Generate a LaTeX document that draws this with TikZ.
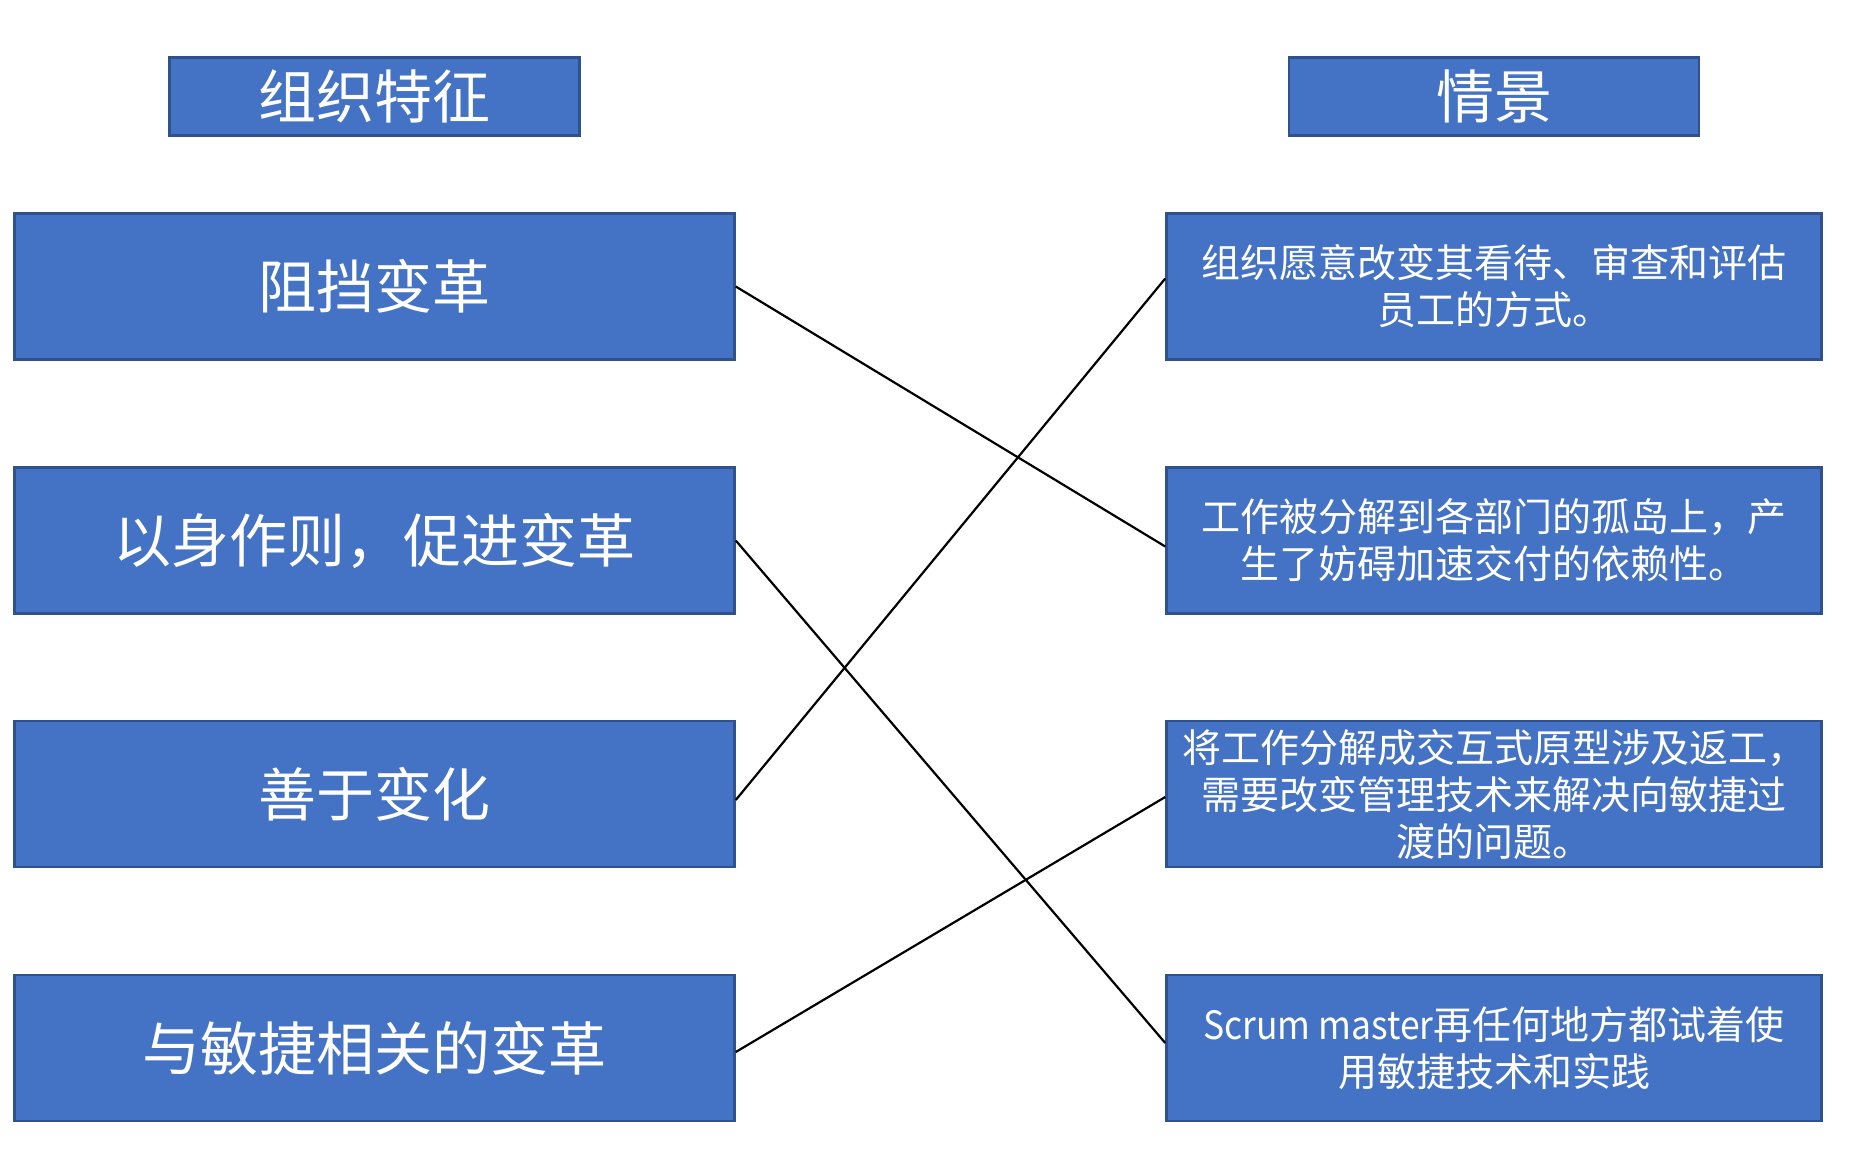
\documentclass[tikz,border=0pt]{standalone}
\usepackage{fontspec}
\usepackage{graphicx}
\newfontfamily\cjk{Noto Sans CJK SC}
\definecolor{boxfill}{HTML}{4472C4}
\definecolor{boxline}{HTML}{2F528F}
\begin{document}
\begin{tikzpicture}[x=1pt,y=-1pt,
  box/.style={draw=boxline,line width=2.5pt,fill=boxfill,text=white,inner sep=0pt,align=center},
  head/.style={box,minimum width=410pt,minimum height=78pt,font=\cjk\fontsize{58}{70}\selectfont},
  lbox/.style={box,minimum width=720pt,minimum height=146pt,font=\cjk\fontsize{58}{70}\selectfont},
  rbox/.style={box,minimum width=655pt,minimum height=146pt,font=\cjk\fontsize{39}{47}\selectfont},
  link/.style={line width=2.2pt,black}]
\useasboundingbox (0,0) rectangle (1858,1154);
\fill[white] (0,0) rectangle (1858,1154);
\node[head] (h1) at (374.5,96.5) {组织特征};
\node[head] (h2) at (1494,96.5) {情景};
\node[lbox] (l1) at (374.5,286.5) {阻挡变革};
\node[lbox] (l2) at (374.5,540.5) {以身作则，促进变革};
\node[lbox] (l3) at (374.5,794) {善于变化};
\node[lbox] (l4) at (374.5,1048) {与敏捷相关的变革};
\node[rbox] (r1) at (1494,286.5) {组织愿意改变其看待、审查和评估\\员工的方式。};
\node[rbox] (r2) at (1494,540.5) {工作被分解到各部门的孤岛上，产\\生了妨碍加速交付的依赖性。};
\node[rbox] (r3) at (1494,794) {将工作分解成交互式原型涉及返工，\\需要改变管理技术来解决向敏捷过\\渡的问题。};
\node[rbox] (r4) at (1494,1048) {\scalebox{0.91}[1]{Scrum master}再任何地方都试着使\\用敏捷技术和实践};
\draw[link] (l1.east) -- ([yshift=-6pt]r2.west);
\draw[link] (l2.east) -- ([yshift=5pt]r4.west);
\draw[link] ([yshift=-6pt]l3.east) -- ([yshift=8pt]r1.west);
\draw[link] ([yshift=-4pt]l4.east) -- ([yshift=-3pt]r3.west);
\end{tikzpicture}
\end{document}
